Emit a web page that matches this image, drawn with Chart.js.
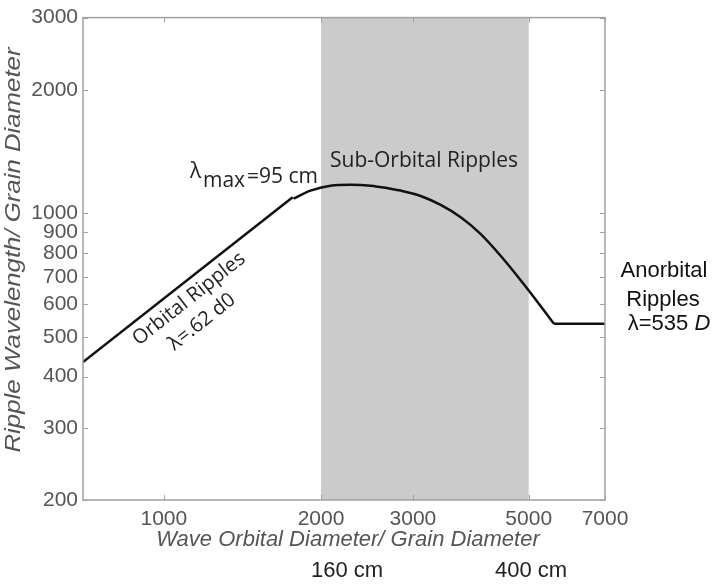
<!DOCTYPE html>
<html>
<head>
<meta charset="utf-8">
<script src="https://cdn.jsdelivr.net/npm/chart.js@4.4.1/dist/chart.umd.min.js"></script>
<style>
  html, body { margin: 0; padding: 0; background: #fff; }
</style>
</head>
<body>
<canvas id="chart" width="713" height="585"></canvas>
<script>
// ---- data ----
const xTicks = [1000, 2000, 3000, 5000, 7000];
const yTicks = [200, 300, 400, 500, 600, 700, 800, 900, 1000, 2000, 3000];

// orbital ripples: lambda = 0.62 d0
const orbitalX = [700, 1765];
const orbitalY = [434, 1094];

// sub-orbital ripples
const subOrbitalX = [1771, 1909, 2085, 2279, 2489, 2719, 2842, 3104, 3391, 3704, 4047, 4421, 4830, 5277, 5588];
const subOrbitalY = [1086, 1136, 1168, 1174, 1168, 1148, 1136, 1102, 1048, 978, 890, 787, 686, 593, 538];

// anorbital ripples: lambda = 535 D
const anorbitalX = [5588, 7000];
const anorbitalY = [538, 538];

// shaded sub-orbital band
const bandRange = [2000, 5000];

const toPoints = (xs, ys) => xs.map((x, i) => ({ x: x, y: ys[i] }));

const AXIS_FONT = '"Liberation Sans", Arial, sans-serif';
const NOTE_FONT = '"Open Sans", "Noto Sans", sans-serif';

// draw text stretched/squeezed to a given length
function fitText(ctx, text, cx, cy, len) {
    const w = ctx.measureText(text).width;
    ctx.save();
    ctx.translate(cx, cy);
    ctx.scale(len / w, 1);
    ctx.fillText(text, 0, 0);
    ctx.restore();
}

const decor = {
    id: 'decor',
    beforeDatasetsDraw(chart) {
        const { ctx, chartArea: a, scales: { x } } = chart;
        const x0 = x.getPixelForValue(bandRange[0]);
        const x1 = x.getPixelForValue(bandRange[1]);
        ctx.save();
        ctx.fillStyle = '#cbcbcb';
        ctx.fillRect(x0, a.top, x1 - x0, a.bottom - a.top);
        ctx.restore();
    },
    afterDatasetsDraw(chart) {
        const { ctx, chartArea: a, scales: { x, y } } = chart;
        ctx.save();

        // box + inward ticks on all four sides
        ctx.strokeStyle = '#a0a0a0';
        ctx.lineWidth = 1.5;
        ctx.strokeRect(a.left, a.top, a.right - a.left, a.bottom - a.top);
        ctx.lineWidth = 1;
        ctx.beginPath();
        xTicks.forEach(v => {
            const px = Math.round(x.getPixelForValue(v)) + 0.5;
            ctx.moveTo(px, a.bottom); ctx.lineTo(px, a.bottom - 5);
            ctx.moveTo(px, a.top); ctx.lineTo(px, a.top + 5);
        });
        yTicks.forEach(v => {
            const py = Math.round(y.getPixelForValue(v)) + 0.5;
            ctx.moveTo(a.left, py); ctx.lineTo(a.left + 5, py);
            ctx.moveTo(a.right, py); ctx.lineTo(a.right - 5, py);
        });
        ctx.stroke();

        // axis titles
        ctx.fillStyle = '#555';
        ctx.textAlign = 'center';
        ctx.textBaseline = 'middle';
        ctx.font = 'italic 22px ' + AXIS_FONT;
        ctx.fillText('Wave Orbital Diameter/ Grain Diameter', 348, 540);
        ctx.save();
        ctx.translate(14, 250);
        ctx.rotate(-Math.PI / 2);
        ctx.font = 'italic 22px ' + AXIS_FONT;
        fitText(ctx, 'Ripple Wavelength/ Grain Diameter', 0, 0, 405);
        ctx.restore();

        // band edges in cm
        ctx.fillStyle = '#222';
        ctx.font = '22px ' + AXIS_FONT;
        ctx.fillText('160 cm', 347, 571);
        ctx.fillText('400 cm', 531, 571);

        // notes
        ctx.font = '21px ' + NOTE_FONT;
        ctx.textBaseline = 'alphabetic';
        ctx.fillText('Sub-Orbital Ripples', 424, 167);

        ctx.textAlign = 'left';
        ctx.fillText('\u03bb', 190, 178);
        ctx.fillText('max', 203, 187);
        ctx.fillText('=95 cm', 247, 183);

        ctx.save();
        ctx.translate(189, 299);
        ctx.rotate(-38.3 * Math.PI / 180);
        ctx.textAlign = 'center';
        ctx.textBaseline = 'middle';
        ctx.font = '20px ' + NOTE_FONT;
        ctx.fillText('Orbital Ripples', 0, 0);
        ctx.restore();

        ctx.save();
        ctx.translate(202, 322);
        ctx.rotate(-38.3 * Math.PI / 180);
        ctx.textAlign = 'center';
        ctx.textBaseline = 'middle';
        ctx.font = '20px ' + NOTE_FONT;
        ctx.fillText('\u03bb=.62 d0', 0, 0);
        ctx.restore();

        ctx.fillStyle = '#111';
        ctx.textAlign = 'center';
        ctx.textBaseline = 'middle';
        ctx.font = '22px ' + AXIS_FONT;
        ctx.fillText('Anorbital', 664, 271);
        ctx.fillText('Ripples', 663, 300);
        const head = '\u03bb=535 ';
        const w1 = ctx.measureText(head).width;
        ctx.font = 'italic 22px ' + AXIS_FONT;
        const w2 = ctx.measureText('D').width;
        const sx = 669 - (w1 + w2) / 2;
        ctx.textAlign = 'left';
        ctx.font = '22px ' + AXIS_FONT;
        ctx.fillText(head, sx, 324);
        ctx.font = 'italic 22px ' + AXIS_FONT;
        ctx.fillText('D', sx + w1, 324);

        ctx.restore();
    }
};

const lineStyle = {
    showLine: true,
    pointRadius: 0,
    borderColor: '#111',
    borderWidth: 2.5,
    fill: false
};

new Chart(document.getElementById('chart'), {
    type: 'scatter',
    data: {
        datasets: [
            Object.assign({ label: 'Orbital', data: toPoints(orbitalX, orbitalY), tension: 0 }, lineStyle),
            Object.assign({ label: 'Sub-Orbital', data: toPoints(subOrbitalX, subOrbitalY), cubicInterpolationMode: 'monotone' }, lineStyle),
            Object.assign({ label: 'Anorbital', data: toPoints(anorbitalX, anorbitalY), tension: 0 }, lineStyle)
        ]
    },
    options: {
        responsive: false,
        animation: false,
        layout: { padding: { left: 0, right: 108, top: 12, bottom: 0 } },
        plugins: {
            legend: { display: false },
            tooltip: { enabled: false }
        },
        scales: {
            x: {
                type: 'logarithmic',
                min: 700,
                max: 7000,
                border: { display: false },
                grid: { display: false, drawTicks: false },
                afterBuildTicks: scale => { scale.ticks = xTicks.map(v => ({ value: v })); },
                afterFit: scale => { scale.height = 85; },
                ticks: {
                    autoSkip: false,
                    maxRotation: 0,
                    padding: 7,
                    color: '#555',
                    font: { family: AXIS_FONT, size: 21 },
                    callback: v => String(v)
                }
            },
            y: {
                type: 'logarithmic',
                min: 200,
                max: 3000,
                border: { display: false },
                grid: { display: false, drawTicks: false },
                afterBuildTicks: scale => { scale.ticks = yTicks.map(v => ({ value: v })); },
                afterFit: scale => { scale.width = 83; },
                ticks: {
                    autoSkip: false,
                    padding: 5,
                    color: '#555',
                    font: { family: AXIS_FONT, size: 21 },
                    callback: v => String(v)
                }
            }
        }
    },
    plugins: [decor]
});
</script>
</body>
</html>
